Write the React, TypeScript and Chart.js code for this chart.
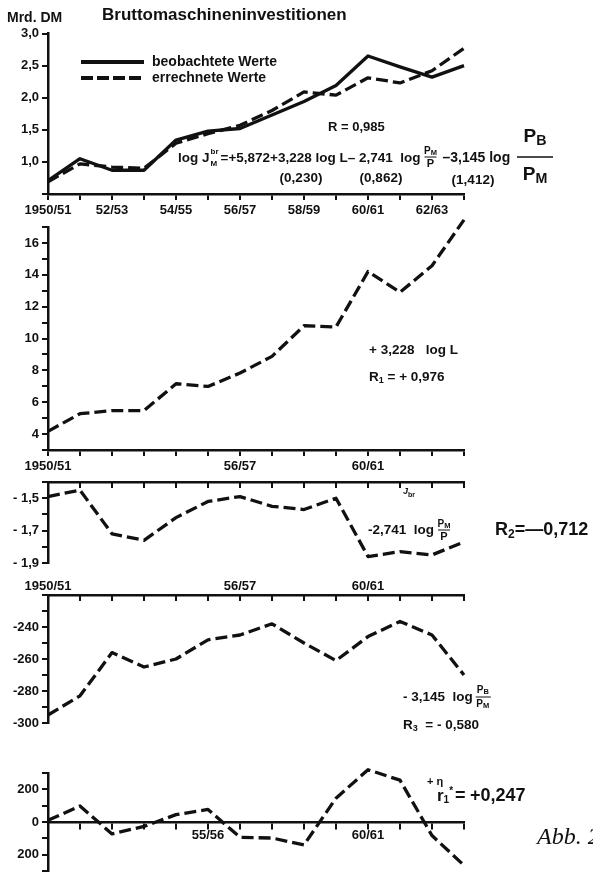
import React, { useEffect, useRef } from 'react';
import { Chart, registerables } from 'chart.js';

Chart.register(...registerables);

// ---------- data ----------
const years = ['1950/51', '51/52', '52/53', '53/54', '54/55', '55/56', '56/57', '57/58', '58/59', '59/60', '60/61', '61/62', '62/63', '63/64'];
const observed = [0.71, 1.05, 0.87, 0.87, 1.34, 1.48, 1.52, 1.73, 1.94, 2.19, 2.65, 2.48, 2.32, 2.5];
const computed = [0.69, 0.97, 0.92, 0.9, 1.29, 1.44, 1.57, 1.8, 2.09, 2.04, 2.31, 2.23, 2.42, 2.77];
const logLPart = [4.17, 5.28, 5.47, 5.47, 7.16, 6.99, 7.83, 8.88, 10.8, 10.72, 14.2, 12.9, 14.57, 17.45];
const pmpPart = [-1.49, -1.45, -1.72, -1.76, -1.62, -1.52, -1.49, -1.55, -1.57, -1.5, -1.86, -1.83, -1.85, -1.77];
const pbpmPart = [-295, -283, -256, -265, -260, -248, -245, -238, -250, -261, -246, -236.5, -245, -270];
const residual = [10, 98, -73, -27, 45, 77, -94, -98, -140, 146, 320, 256, -83, -265];

const xLabelsTop = [0, 2, 4, 6, 8, 10, 12];
const xLabelsMid = [0, 6, 10];
const xLabelsRes = [5, 10];

// ---------- style ----------
const FONT = "'Liberation Sans', Arial, 'DejaVu Sans', sans-serif";
const SERIF = "'Liberation Serif', 'DejaVu Serif', serif";
const INK = '#111';
const W = 593;
const AXIS_LEFT = 48;
const AXIS_RIGHT = 464;
const DASH = [12, 5];
const LW = 3.3;

type TOpt = { size?: number; weight?: string; style?: string; family?: string; align?: CanvasTextAlign };

function txt(ctx: CanvasRenderingContext2D, s: string, x: number, y: number, o: TOpt = {}): number {
  ctx.save();
  ctx.font = `${o.style || 'normal'} ${o.weight || 'bold'} ${o.size || 13}px ${o.family || FONT}`;
  ctx.fillStyle = INK;
  ctx.textAlign = o.align || 'left';
  ctx.textBaseline = 'middle';
  ctx.fillText(s, x, y);
  const w = ctx.measureText(s).width;
  ctx.restore();
  return w;
}

function line(ctx: CanvasRenderingContext2D, x1: number, y1: number, x2: number, y2: number, w: number, dash: number[] = []) {
  ctx.save();
  ctx.strokeStyle = INK;
  ctx.lineWidth = w;
  ctx.setLineDash(dash);
  ctx.beginPath();
  ctx.moveTo(x1, y1);
  ctx.lineTo(x2, y2);
  ctx.stroke();
  ctx.restore();
}

// P with subscript letter, centered at cx
function pSub(ctx: CanvasRenderingContext2D, sub: string, cx: number, y: number, size: number) {
  ctx.save();
  ctx.font = `bold ${size}px ${FONT}`;
  const wp = ctx.measureText('P').width;
  ctx.font = `bold ${size * 0.75}px ${FONT}`;
  const ws = ctx.measureText(sub).width;
  ctx.restore();
  const x0 = cx - (wp + ws) / 2;
  txt(ctx, 'P', x0, y, { size });
  txt(ctx, sub, x0 + wp, y + size * 0.22, { size: size * 0.75 });
}

type Spec = {
  top: number;
  height: number;
  pad: { top: number; bottom: number };
  datasets: { data: number[]; dash: number[] }[];
  xPos: any;
  xHeight: number;
  xTick: number;
  xPad: number;
  xShow: number[];
  xLabels: boolean;
  yMin: number;
  yMax: number;
  yStep: number;
  yLabel: (v: number) => string;
  draw: (ctx: CanvasRenderingContext2D, off: number) => void;
};

const specs: Spec[] = [
  {
    top: 0,
    height: 222,
    pad: { top: 33.5, bottom: 0 },
    datasets: [
      { data: observed, dash: [] },
      { data: computed, dash: DASH },
    ],
    xPos: 'bottom',
    xHeight: 28,
    xTick: 6,
    xPad: 3,
    xShow: xLabelsTop,
    xLabels: true,
    yMin: 0.5,
    yMax: 3.0,
    yStep: 0.5,
    yLabel: (v) => (Math.abs(v - 0.5) < 1e-6 ? '' : v.toFixed(1).replace('.', ',')),
    draw: (ctx, off) => {
      const Y = (y: number) => y - off;
      txt(ctx, 'Mrd. DM', 7, Y(18), { size: 14 });
      txt(ctx, 'Bruttomaschineninvestitionen', 102, Y(15), { size: 17 });
      line(ctx, 81, Y(62), 144, Y(62), 4);
      txt(ctx, 'beobachtete Werte', 152, Y(62), { size: 14 });
      line(ctx, 81, Y(78), 144, Y(78), 4, [12, 4]);
      txt(ctx, 'errechnete Werte', 152, Y(78), { size: 14 });
      txt(ctx, 'R = 0,985', 328, Y(127), { size: 13 });
      // equation
      let x = 178;
      x += txt(ctx, 'log J', x, Y(158), { size: 13.5 });
      txt(ctx, 'br', x + 1, Y(152), { size: 8 });
      txt(ctx, 'M', x + 1, Y(164), { size: 8 });
      x += 11;
      x += txt(ctx, '=+5,872+3,228 log L– 2,741  log', x, Y(158), { size: 13.5 });
      pSub(ctx, 'M', x + 10, Y(151), 10);
      line(ctx, x + 4, Y(157), x + 16, Y(157), 1);
      txt(ctx, 'P', x + 10, Y(164), { size: 11, align: 'center' });
      x += 22;
      x += txt(ctx, '–3,145 log', x, Y(158), { size: 14 });
      pSub(ctx, 'B', 535, Y(137), 19);
      line(ctx, 517, Y(157), 553, Y(157), 1.5);
      pSub(ctx, 'M', 535, Y(175), 19);
      txt(ctx, '(0,230)', 301, Y(178), { size: 13.5, align: 'center' });
      txt(ctx, '(0,862)', 381, Y(178), { size: 13.5, align: 'center' });
      txt(ctx, '(1,412)', 473, Y(180), { size: 13.5, align: 'center' });
    },
  },
  {
    top: 212,
    height: 264,
    pad: { top: 15, bottom: 0 },
    datasets: [{ data: logLPart, dash: DASH }],
    xPos: 'bottom',
    xHeight: 26,
    xTick: 6,
    xPad: 3,
    xShow: xLabelsMid,
    xLabels: true,
    yMin: 3,
    yMax: 17,
    yStep: 1,
    yLabel: (v) => (Math.round(v) % 2 === 0 ? String(Math.round(v)) : ''),
    draw: (ctx, off) => {
      const Y = (y: number) => y - off;
      txt(ctx, '+ 3,228   log L', 369, Y(350), { size: 13.5 });
      let x = 369;
      x += txt(ctx, 'R', x, Y(377), { size: 13.5 });
      x += txt(ctx, '1', x, Y(381), { size: 9 });
      txt(ctx, ' = + 0,976', x, Y(377), { size: 13.5 });
    },
  },
  {
    top: 476,
    height: 100,
    pad: { top: 0, bottom: 13 },
    datasets: [{ data: pmpPart, dash: DASH }],
    xPos: 'top',
    xHeight: 6,
    xTick: -6,
    xPad: 3,
    xShow: [],
    xLabels: false,
    yMin: -1.9,
    yMax: -1.4,
    yStep: 0.1,
    yLabel: (v) => {
      const r = Math.round(v * 10);
      return r === -15 || r === -17 || r === -19 ? '- 1,' + String(-r - 10) : '';
    },
    draw: (ctx, off) => {
      const Y = (y: number) => y - off;
      let jx = 403;
      jx += txt(ctx, 'J', jx, Y(492), { size: 9, style: 'italic' });
      txt(ctx, 'br', jx, Y(495), { size: 7 });
      let x = 368;
      x += txt(ctx, '-2,741  log', x, Y(530), { size: 13.5 });
      pSub(ctx, 'M', x + 10, Y(524), 10);
      line(ctx, x + 4, Y(530), x + 16, Y(530), 1);
      txt(ctx, 'P', x + 10, Y(537), { size: 11, align: 'center' });
      let rx = 495;
      rx += txt(ctx, 'R', rx, Y(530), { size: 18 });
      rx += txt(ctx, '2', rx, Y(535), { size: 12 });
      txt(ctx, '=—0,712', rx, Y(530), { size: 18 });
    },
  },
  {
    top: 576,
    height: 156,
    pad: { top: 0, bottom: 9 },
    datasets: [{ data: pbpmPart, dash: DASH }],
    xPos: 'top',
    xHeight: 19,
    xTick: -6,
    xPad: 7,
    xShow: xLabelsMid,
    xLabels: true,
    yMin: -300,
    yMax: -220,
    yStep: 10,
    yLabel: (v) => {
      const r = Math.round(v);
      return r % 20 === 0 && r !== -220 ? String(r) : '';
    },
    draw: (ctx, off) => {
      const Y = (y: number) => y - off;
      let x = 403;
      x += txt(ctx, '- 3,145  log', x, Y(697), { size: 13.5 });
      pSub(ctx, 'B', x + 10, Y(690), 10);
      line(ctx, x + 3, Y(697), x + 18, Y(697), 1);
      pSub(ctx, 'M', x + 10, Y(704), 10);
      let rx = 403;
      rx += txt(ctx, 'R', rx, Y(725), { size: 13.5 });
      rx += txt(ctx, '3', rx, Y(729), { size: 9 });
      txt(ctx, '  = - 0,580', rx, Y(725), { size: 13.5 });
    },
  },
  {
    top: 740,
    height: 132,
    pad: { top: 33, bottom: 1 },
    datasets: [{ data: residual, dash: DASH }],
    xPos: { y: 0 },
    xHeight: 20,
    xTick: 6,
    xPad: 0,
    xShow: xLabelsRes,
    xLabels: true,
    yMin: -300,
    yMax: 300,
    yStep: 100,
    yLabel: (v) => {
      const r = Math.round(v);
      return r === 200 || r === -200 ? '200' : r === 0 ? '0' : '';
    },
    draw: (ctx, off) => {
      const Y = (y: number) => y - off;
      txt(ctx, '+ η', 427, Y(782), { size: 11 });
      let x = 437;
      x += txt(ctx, 'r', x, Y(796), { size: 17 });
      x += txt(ctx, '1', x, Y(800), { size: 10 });
      txt(ctx, '*', x, Y(791), { size: 10 });
      txt(ctx, '=', 455, Y(796), { size: 18 });
      txt(ctx, '+0,247', 470, Y(796), { size: 18 });
      txt(ctx, 'Abb. 2', 537, Y(838), { size: 24, weight: 'normal', style: 'italic', family: SERIF });
    },
  },
];

function makeChart(canvas: HTMLCanvasElement, sp: Spec): Chart {
  const font = { family: FONT, size: 13, weight: 'bold' as const };
  return new Chart(canvas, {
    type: 'line',
    data: {
      labels: years,
      datasets: sp.datasets.map((d) => ({
        data: d.data,
        borderColor: INK,
        borderWidth: LW,
        borderDash: d.dash,
        borderJoinStyle: 'round' as const,
        pointRadius: 0,
        tension: 0,
        fill: false,
        clip: false as any,
      })),
    },
    options: {
      responsive: false,
      animation: false,
      devicePixelRatio: 1,
      layout: { padding: { top: sp.pad.top, bottom: sp.pad.bottom, left: 0, right: W - AXIS_RIGHT } },
      plugins: { legend: { display: false }, tooltip: { enabled: false } },
      scales: {
        x: {
          type: 'category',
          position: sp.xPos,
          offset: false,
          border: { display: true, color: INK, width: 2.5 },
          grid: { drawOnChartArea: false, drawTicks: true, tickLength: sp.xTick, color: INK, tickColor: INK, lineWidth: 2, tickWidth: 2 },
          ticks: {
            display: sp.xLabels,
            autoSkip: false,
            maxRotation: 0,
            minRotation: 0,
            padding: sp.xPad,
            color: INK,
            font,
            callback: (_v: any, i: number) => (sp.xShow.includes(i) ? years[i] : ''),
          },
          afterFit: (s: any) => {
            s.height = sp.xHeight;
            s.paddingLeft = 0;
            s.paddingRight = 0;
          },
        } as any,
        y: {
          type: 'linear',
          min: sp.yMin,
          max: sp.yMax,
          border: { display: true, color: INK, width: 2.5 },
          grid: { drawOnChartArea: false, drawTicks: true, tickLength: 6, color: INK, tickColor: INK, lineWidth: 2, tickWidth: 2 },
          ticks: {
            stepSize: sp.yStep,
            autoSkip: false,
            padding: 3,
            color: INK,
            font,
            callback: (v: any) => sp.yLabel(Number(v)),
          },
          afterFit: (s: any) => {
            s.width = AXIS_LEFT;
            s.paddingTop = 0;
            s.paddingBottom = 0;
          },
        } as any,
      },
    },
    plugins: [
      {
        id: 'annot' + sp.top,
        afterDraw: (chart: Chart) => sp.draw(chart.ctx, sp.top),
      },
    ],
  });
}

export default function App() {
  const refs = useRef<(HTMLCanvasElement | null)[]>([]);

  useEffect(() => {
    const charts: Chart[] = [];
    specs.forEach((sp, i) => {
      const c = refs.current[i];
      if (c) charts.push(makeChart(c, sp));
    });
    return () => charts.forEach((c) => c.destroy());
  }, []);

  return (
    <div style={{ position: 'absolute', left: 0, top: 0, width: W, height: 872, background: '#fff', overflow: 'hidden' }}>
      {specs.map((sp, i) => (
        <canvas
          key={i}
          ref={(el) => {
            refs.current[i] = el;
          }}
          width={W}
          height={sp.height}
          style={{ position: 'absolute', left: 0, top: sp.top, width: W, height: sp.height, display: 'block' }}
        />
      ))}
    </div>
  );
}
